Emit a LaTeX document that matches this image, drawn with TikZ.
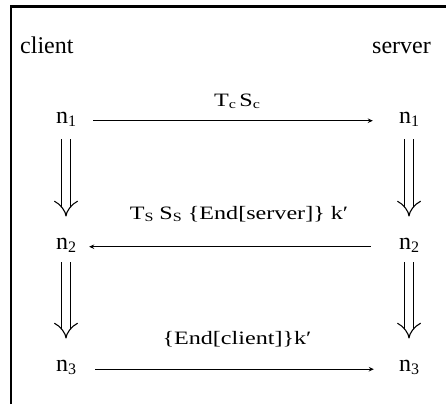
\documentclass[tikz,border=0pt]{standalone}
\usepackage{fontspec}
\setmainfont{Liberation Serif}
\usetikzlibrary{arrows.meta}

% subscripts for the state names and for the message labels
\newcommand\nsub[1]{\raisebox{-3pt}{\fontsize{16}{16}\selectfont #1}}
\newcommand\lsub[1]{\raisebox{-2.5pt}{\fontsize{12}{12}\selectfont #1}}
\newcommand\nstate[1]{n\nsub{#1}}
\newcommand\msgtext[1]{\scalebox{1.34}[1.05]{#1}}

\tikzset{
  party/.style={font=\fontsize{24}{28}\selectfont, inner sep=0pt, anchor=base west},
  state/.style={font=\fontsize{24}{28}\selectfont, inner sep=0pt, anchor=base},
  msg/.style={font=\fontsize{18}{22}\selectfont, inner sep=0pt, anchor=base},
  send/.style={line width=1.1pt, -{Stealth[length=5pt,width=4.5pt]}},
  advance/.style={double, double distance=7.5pt, line width=1.1pt,
    -{Implies[length=11pt,width=26pt]}},
  frame/.style={line width=2.2pt}
}

\begin{document}
\begin{tikzpicture}[x=1pt,y=-1pt]
  \useasboundingbox (0,0) rectangle (446,404);

  % open frame: top and left edges only
  \draw[frame] (11,404) -- (11,6.5) -- (446,6.5);

  % the two parties
  \node[party] (client) at (20,53) {client};
  \node[party] (server) at (372,53) {server};

  % protocol states
  \node[state] (c1) at (66,123) {\nstate{1}};
  \node[state] (s1) at (409,123) {\nstate{1}};
  \node[state] (c2) at (66,249) {\nstate{2}};
  \node[state] (s2) at (409,249) {\nstate{2}};
  \node[state] (c3) at (66,371.5) {\nstate{3}};
  \node[state] (s3) at (409,371.5) {\nstate{3}};

  % messages
  \node[msg] (m1) at (237,106) {\msgtext{T\lsub{c}\hspace{2.5pt}S\lsub{c}}};
  \node[msg] (m2) at (239,219) {\msgtext{T\lsub{S} S\lsub{S} \{End[server]\} k′}};
  \node[msg] (m3) at (237,344) {\msgtext{\{End[client]\}k′}};

  \draw[send, shorten <=17pt, shorten >=26pt] (c1.mid east) -- (s1.mid west);
  \draw[send, shorten <=28pt, shorten >=13pt] (s2.mid west) -- (c2.mid east);
  \draw[send, shorten <=19pt, shorten >=25pt] (c3.mid east) -- (s3.mid west);

  % state transitions on each side
  \draw[advance, shorten <=13pt, shorten >=21pt] (c1.south) -- (c2.north);
  \draw[advance, shorten <=13pt, shorten >=21pt] (s1.south) -- (s2.north);
  \draw[advance, shorten <=10pt, shorten >=21.5pt] (c2.south) -- (c3.north);
  \draw[advance, shorten <=10pt, shorten >=21.5pt] (s2.south) -- (s3.north);
\end{tikzpicture}
\end{document}
